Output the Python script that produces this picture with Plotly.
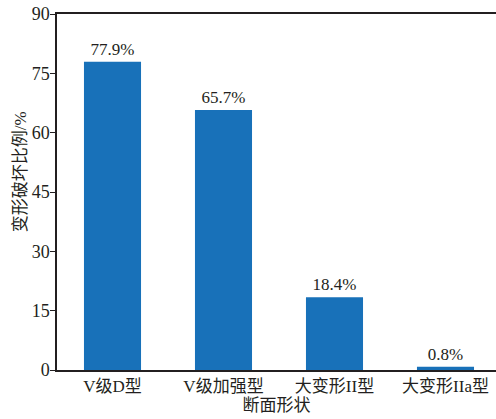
import plotly.graph_objects as go

categories = ["V级D型", "V级加强型", "大变形II型", "大变形IIa型"]
values = [77.9, 65.7, 18.4, 0.8]
labels = ["77.9%", "65.7%", "18.4%", "0.8%"]
y_ticks = [0, 15, 30, 45, 60, 75, 90]
y_title = "变形破坏比例/%"
x_title = "断面形状"

FONT = "Liberation Serif, Noto Sans CJK SC, serif"
TXT = "#231f20"

fig = go.Figure(go.Bar(
    x=list(range(len(categories))), y=values, text=labels,
    textposition="outside", cliponaxis=False,
    textfont=dict(family=FONT, size=17, color=TXT),
    marker=dict(color="#1871b9", line=dict(width=0)),
    width=0.514,
))

fig.update_layout(
    width=496, height=419,
    margin=dict(l=57, r=0, t=14, b=49),
    plot_bgcolor="white", paper_bgcolor="white",
    font=dict(family=FONT, size=17, color=TXT),
    showlegend=False,
    xaxis=dict(
        range=[-0.5, 3.455], tickmode="array",
        tickvals=list(range(len(categories))), ticktext=categories,
        showline=True, linecolor=TXT, linewidth=1.5, mirror=True,
        ticks="", showgrid=False, zeroline=False, automargin=False,
        title=dict(text=x_title, standoff=4, font=dict(size=17)),
        tickfont=dict(size=17),
    ),
    yaxis=dict(
        range=[0, 90], tickvals=y_ticks,
        showline=True, linecolor=TXT, linewidth=1.5,
        ticks="outside", ticklen=5, tickcolor=TXT,
        showgrid=False, zeroline=False, automargin=False,
        ticklabelstandoff=-3,
        tickfont=dict(size=18),
    ),
    annotations=[dict(
        text=y_title, textangle=-90, showarrow=False,
        xref="paper", yref="paper", x=-0.084, y=0.556,
        xanchor="center", yanchor="middle",
        font=dict(size=17, family=FONT, color=TXT),
    )],
)

fig.write_html("out.html", config={"displayModeBar": False},
               post_script="document.body.style.margin='0';document.body.style.padding='0';")
